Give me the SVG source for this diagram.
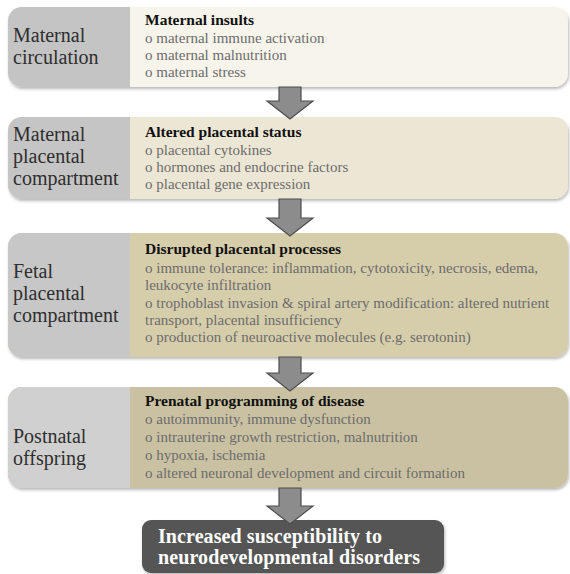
<svg xmlns="http://www.w3.org/2000/svg" width="570" height="574" viewBox="0 0 570 574">
<defs>
<filter id="sh" x="-5%" y="-10%" width="110%" height="130%">
<feDropShadow dx="1" dy="2" stdDeviation="1.5" flood-color="#000" flood-opacity="0.28"/>
</filter>
</defs>
<style>
.lab{font-family:"Liberation Serif",serif;font-size:20px;fill:#2e2e2e}
.ttl{font-family:"Liberation Serif",serif;font-size:15.5px;font-weight:bold;fill:#111}
.itm{font-family:"Liberation Serif",serif;font-size:15px;fill:#6c6c6c}
.fin{font-family:"Liberation Serif",serif;font-size:20px;font-weight:bold;fill:#fff}
.arr{fill:#8c8c8c;stroke:#4d4d4d;stroke-width:1.2}
</style>
<rect width="570" height="574" fill="#fff"/>

<g id="box1">
<rect x="8" y="7" width="560" height="80" rx="14" fill="#f7f4eb" filter="url(#sh)"/>
<path d="M130,7 H22 A14,14 0 0 0 8,21 V73 A14,14 0 0 0 22,87 H130 Z" fill="#c4c4c4"/>
<text class="lab" x="13" y="42">Maternal</text>
<text class="lab" x="13" y="64">circulation</text>
<text class="ttl" x="145" y="25">Maternal insults</text>
<text class="itm" x="145" y="43">o maternal immune activation</text>
<text class="itm" x="145" y="60">o maternal malnutrition</text>
<text class="itm" x="145" y="77">o maternal stress</text>
</g>

<g id="box2">
<rect x="8" y="117" width="560" height="82" rx="14" fill="#ece6d5" filter="url(#sh)"/>
<path d="M130,117 H22 A14,14 0 0 0 8,131 V185 A14,14 0 0 0 22,199 H130 Z" fill="#c5c5c5"/>
<text class="lab" x="13" y="141">Maternal</text>
<text class="lab" x="13" y="163">placental</text>
<text class="lab" x="13" y="185">compartment</text>
<text class="ttl" x="145" y="137">Altered placental status</text>
<text class="itm" x="145" y="155">o placental cytokines</text>
<text class="itm" x="145" y="172">o hormones and endocrine factors</text>
<text class="itm" x="145" y="189">o placental gene expression</text>
</g>

<g id="box3">
<rect x="8" y="233" width="560" height="124" rx="14" fill="#d6cdab" filter="url(#sh)"/>
<path d="M130,233 H22 A14,14 0 0 0 8,247 V343 A14,14 0 0 0 22,357 H130 Z" fill="#c7c7c7"/>
<text class="lab" x="13" y="278">Fetal</text>
<text class="lab" x="13" y="300">placental</text>
<text class="lab" x="13" y="322">compartment</text>
<text class="ttl" x="145" y="254">Disrupted placental processes</text>
<text class="itm" x="145" y="273">o immune tolerance: inflammation, cytotoxicity, necrosis, edema,</text>
<text class="itm" x="145" y="290">leukocyte infiltration</text>
<text class="itm" x="145" y="308">o trophoblast invasion &amp; spiral artery modification: altered nutrient</text>
<text class="itm" x="145" y="325">transport, placental insufficiency</text>
<text class="itm" x="145" y="342">o production of neuroactive molecules (e.g. serotonin)</text>
</g>

<g id="box4">
<rect x="8" y="387" width="560" height="101" rx="14" fill="#c9c1a2" filter="url(#sh)"/>
<path d="M130,387 H22 A14,14 0 0 0 8,401 V474 A14,14 0 0 0 22,488 H130 Z" fill="#d0d0d0"/>
<text class="lab" x="13" y="443">Postnatal</text>
<text class="lab" x="13" y="465">offspring</text>
<text class="ttl" x="145" y="406">Prenatal programming of disease</text>
<text class="itm" x="145" y="424">o autoimmunity, immune dysfunction</text>
<text class="itm" x="145" y="442">o intrauterine growth restriction, malnutrition</text>
<text class="itm" x="145" y="460">o hypoxia, ischemia</text>
<text class="itm" x="145" y="478">o altered neuronal development and circuit formation</text>
</g>

<g id="final">
<rect x="142" y="520" width="302" height="53" rx="9" fill="#555555" filter="url(#sh)"/>
<text class="fin" x="158" y="543" textLength="224" lengthAdjust="spacing">Increased susceptibility to</text>
<text class="fin" x="158" y="564" textLength="262" lengthAdjust="spacing">neurodevelopmental disorders</text>
</g>

<g id="connectors">
<path class="arr" d="M279,87 H301 V101 H313 L290,119 L267,101 H279 Z"/>
<path class="arr" d="M279,199 H301 V218 H313 L290,236 L267,218 H279 Z"/>
<path class="arr" d="M279,357 H301 V373 H313 L290,391 L267,373 H279 Z"/>
<path class="arr" d="M279,488 H301 V506 H313 L290,524 L267,506 H279 Z"/>
</g>
</svg>
